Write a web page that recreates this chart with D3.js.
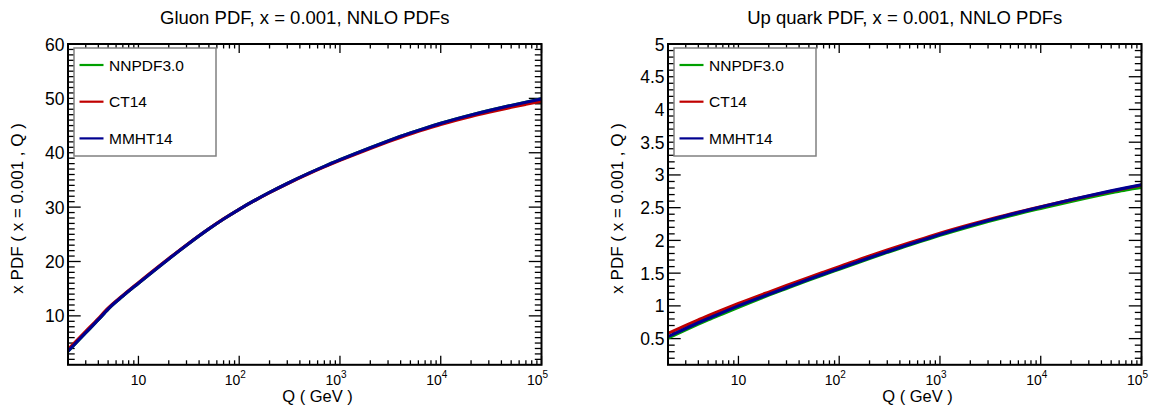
<!DOCTYPE html>
<html><head><meta charset="utf-8">
<script src="https://cdn.jsdelivr.net/npm/d3@7"></script>
<style>body{margin:0;background:#fff}svg{display:block}text{font-family:"Liberation Sans",Arial,sans-serif;fill:#000}</style>
</head><body>
<script>
// ---- data ----
const qValues = [2, 3, 4, 4.75, 5, 7, 10, 20, 30, 50, 70, 100, 200, 300, 500, 700, 1000, 2000, 3000, 5000, 7000, 10000, 20000, 30000, 50000, 70000, 100000];
const gluonNNPDF = [3.5, 6.9, 9.3, 10.8, 11.25, 13.65, 16.0, 20.47, 22.99, 25.99, 27.82, 29.6, 32.70, 34.35, 36.29, 37.49, 38.7, 40.93, 42.16, 43.62, 44.51, 45.4, 46.94, 47.75, 48.70, 49.29, 49.9];
const gluonCT14  = [3.8, 7.15, 9.5, 11.0, 11.4, 13.75, 16.1, 20.54, 23.04, 26.02, 27.83, 29.6, 32.67, 34.30, 36.22, 37.40, 38.6, 40.80, 42.01, 43.45, 44.32, 45.2, 46.68, 47.45, 48.36, 48.92, 49.5];
const gluonMMHT  = [3.5, 6.9, 9.3, 10.8, 11.25, 13.65, 16.0, 20.47, 22.99, 25.99, 27.82, 29.6, 32.70, 34.35, 36.29, 37.49, 38.7, 40.93, 42.16, 43.62, 44.51, 45.4, 46.94, 47.75, 48.70, 49.29, 49.9];
const upNNPDF = [0.51, 0.635, 0.721, 0.771, 0.786, 0.881, 0.98, 1.165, 1.267, 1.394, 1.475, 1.56, 1.725, 1.818, 1.932, 2.003, 2.078, 2.214, 2.289, 2.378, 2.434, 2.49, 2.597, 2.656, 2.728, 2.773, 2.81];
const upCT14  = [0.58, 0.70, 0.785, 0.834, 0.848, 0.94, 1.035, 1.21, 1.31, 1.434, 1.514, 1.598, 1.762, 1.853, 1.964, 2.034, 2.108, 2.241, 2.314, 2.402, 2.456, 2.513, 2.62, 2.679, 2.751, 2.797, 2.845];
const upMMHT  = [0.53, 0.655, 0.741, 0.791, 0.806, 0.901, 1.00, 1.178, 1.279, 1.405, 1.486, 1.57, 1.735, 1.828, 1.942, 2.014, 2.09, 2.227, 2.303, 2.394, 2.451, 2.51, 2.621, 2.682, 2.756, 2.803, 2.85];
const seriesNames = ["NNPDF3.0", "CT14", "MMHT14"];
const seriesColors = ["#00a000", "#c00000", "#000090"];
const xDomain = [2, 100000];
const xMajorTicks = [10, 100, 1000, 10000, 100000];
const xTickLabels = [["10", ""], ["10", "2"], ["10", "3"], ["10", "4"], ["10", "5"]];
const gluonYDomain = [1, 60];
const gluonYTicks = [10, 20, 30, 40, 50, 60];
const upYDomain = [0.1, 5];
const upYTicks = [0.5, 1, 1.5, 2, 2.5, 3, 3.5, 4, 4.5, 5];
const titles = ["Gluon PDF, x = 0.001, NNLO PDFs", "Up quark PDF, x = 0.001, NNLO PDFs"];
const xTitle = "Q ( GeV )";
const yTitle = "x PDF ( x = 0.001 , Q )";

const svg = d3.select("body").append("svg").attr("width", 1157).attr("height", 405);

function panel(opt) {
  const L = opt.left, R = opt.left + 473.5, T = 44, B = 364.8;
  const g = svg.append("g");
  const x = d3.scaleLog().domain(xDomain).range([L, R]);
  const y = d3.scaleLinear().domain(opt.yDomain).range([B, T]);

  // x minor ticks
  const xMinor = [];
  for (let e = 0; e <= 4; e++) for (let m = 2; m <= 9; m++) { const v = m * Math.pow(10, e); if (v > xDomain[0] && v < xDomain[1]) xMinor.push(v); }
  const tk = g.append("g").attr("stroke", "#000").attr("stroke-width", 1.3);
  xMinor.forEach(v => {
    tk.append("line").attr("x1", x(v)).attr("x2", x(v)).attr("y1", B).attr("y2", B - 4.5);
    tk.append("line").attr("x1", x(v)).attr("x2", x(v)).attr("y1", T).attr("y2", T + 4.5);
  });
  xMajorTicks.forEach(v => {
    tk.append("line").attr("x1", x(v)).attr("x2", x(v)).attr("y1", B).attr("y2", B - 9);
    tk.append("line").attr("x1", x(v)).attr("x2", x(v)).attr("y1", T).attr("y2", T + 9);
  });
  // y ticks
  const yMinor = d3.range(opt.yDomain[0], opt.yDomain[1] + 1e-9, opt.yMinorStep).map(v => +v.toFixed(4))
      .filter(v => v > opt.yDomain[0] && v < opt.yDomain[1]);
  yMinor.forEach(v => {
    const big = opt.yTicks.some(t => Math.abs(t - v) < 1e-6);
    const len = big ? 12.7 : 6.7;
    tk.append("line").attr("x1", L).attr("x2", L + len).attr("y1", y(v)).attr("y2", y(v));
    tk.append("line").attr("x1", R).attr("x2", R - len).attr("y1", y(v)).attr("y2", y(v));
  });

  // curves
  svg.append("clipPath").attr("id", "clip" + opt.id).append("rect").attr("x", L).attr("y", T).attr("width", R - L).attr("height", B - T);
  const line = d3.line().x((d, i) => x(qValues[i])).y(d => y(d)).curve(d3.curveMonotoneX);
  opt.series.forEach((s, i) => {
    g.append("path").attr("d", line(s)).attr("fill", "none").attr("stroke", seriesColors[i]).attr("stroke-width", 3.2)
      .attr("clip-path", `url(#clip${opt.id})`);
  });

  // frame
  g.append("rect").attr("x", L).attr("y", T).attr("width", R - L).attr("height", B - T)
    .attr("fill", "none").attr("stroke", "#000").attr("stroke-width", 2);

  // legend
  const lg = g.append("g");
  lg.append("rect").attr("x", L + 6).attr("y", T + 4).attr("width", 142).attr("height", 108)
    .attr("fill", "#fff").attr("stroke", "#808080").attr("stroke-width", 1.5);
  seriesNames.forEach((n, i) => {
    const yy = T + 21 + i * 36.7;
    lg.append("line").attr("x1", L + 11.5).attr("x2", L + 35.5).attr("y1", yy).attr("y2", yy)
      .attr("stroke", seriesColors[i]).attr("stroke-width", 2.2);
    lg.append("text").attr("x", L + 41).attr("y", yy + 5.6).attr("font-size", 15.5).text(n);
  });

  // y tick labels
  opt.yTicks.forEach((v, i) => {
    g.append("text").attr("x", L - 3.5).attr("y", y(v) + 6.5).attr("text-anchor", "end")
      .attr("font-size", 17.5).text(opt.yLabels[i]);
  });
  // x tick labels
  xMajorTicks.forEach((v, i) => {
    const t = g.append("text").attr("x", x(v) + (xTickLabels[i][1] ? -4 : 0)).attr("y", 385)
      .attr("text-anchor", "middle").attr("font-size", 14);
    t.append("tspan").text(xTickLabels[i][0]);
    if (xTickLabels[i][1]) t.append("tspan").attr("dy", -7).attr("font-size", 10).text(xTickLabels[i][1]);
  });
  // axis titles
  g.append("text").attr("x", L + 0.527 * (R - L)).attr("y", 401.5).attr("text-anchor", "middle")
    .attr("font-size", 16.5).text(xTitle);
  g.append("text").attr("transform", `translate(${L - 45},${(T + B) / 2 + 4}) rotate(-90)`)
    .attr("text-anchor", "middle").attr("font-size", 17).text(yTitle);
  // title
  g.append("text").attr("x", (L + R) / 2).attr("y", 24).attr("text-anchor", "middle")
    .attr("font-size", 18.5).text(opt.title);
}

panel({id: 0, left: 68, yDomain: gluonYDomain, yTicks: gluonYTicks, yLabels: gluonYTicks.map(String), yMinorStep: 1,
  series: [gluonNNPDF, gluonCT14, gluonMMHT], title: titles[0]});
panel({id: 1, left: 668, yDomain: upYDomain, yTicks: upYTicks, yLabels: upYTicks.map(String), yMinorStep: 0.1,
  series: [upNNPDF, upCT14, upMMHT], title: titles[1]});
</script>
</body></html>
